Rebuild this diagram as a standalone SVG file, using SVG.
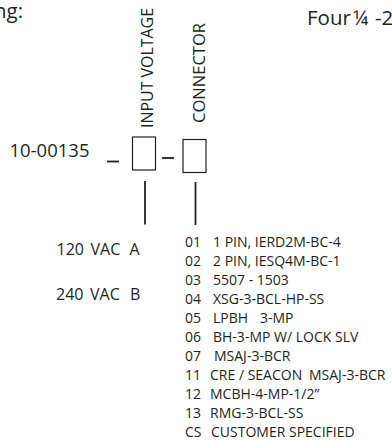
<svg xmlns="http://www.w3.org/2000/svg" width="392" height="441" viewBox="0 0 392 441">
<style>
text{font-family:"Open Sans","Noto Sans","Liberation Sans",sans-serif;fill:#231f20}
.h{font-size:20.5px}
.pn{font-size:18.5px}
.lab{font-size:16.8px}
.v{font-size:16px}
.li{font-size:14px}
.box{fill:none;stroke:#231f20;stroke-width:1.2}
.ln{stroke:#231f20;stroke-width:1.8;fill:none}
</style>
<rect width="392" height="441" fill="#fff"/>
<g id="header">
<text class="h" x="-6" y="18">ng:</text>
<text class="h" y="25"><tspan x="307">Four</tspan><tspan x="353">¼</tspan><tspan x="375">-2</tspan></text>
</g>
<g id="part-number">
<text class="pn" x="9.5" y="156.5">10-00135</text>
</g>
<g id="input-voltage">
<rect class="box" x="132.5" y="137" width="23" height="33"/>
<text class="lab" transform="translate(153,128) rotate(-90)" textLength="120" lengthAdjust="spacingAndGlyphs">INPUT VOLTAGE</text>
</g>
<g id="connector">
<rect class="box" x="183" y="139.5" width="23" height="33"/>
<text class="lab" transform="translate(205,123) rotate(-90)" textLength="100" lengthAdjust="spacingAndGlyphs">CONNECTOR</text>
</g>
<g id="connectors">
<line class="ln" x1="107" y1="161.5" x2="119" y2="161.5"/>
<line class="ln" x1="162" y1="158" x2="174" y2="158"/>
<line class="ln" x1="145" y1="181" x2="145" y2="224.5"/>
<line class="ln" x1="195.5" y1="182" x2="195.5" y2="225"/>
</g>
<g id="voltage-options">
<text class="v" y="255"><tspan x="56.5">120</tspan><tspan x="90.5">VAC</tspan><tspan x="129.5">A</tspan></text>
<text class="v" y="300"><tspan x="56">240</tspan><tspan x="90">VAC</tspan><tspan x="130">B</tspan></text>
</g>
<g id="connector-options">
<text class="li" y="247"><tspan x="185">01</tspan><tspan x="213">1 PIN, IERD2M-BC-4</tspan></text>
<text class="li" y="266"><tspan x="185">02</tspan><tspan x="213">2 PIN, IESQ4M-BC-1</tspan></text>
<text class="li" y="285"><tspan x="185">03</tspan><tspan x="213">5507 - 1503</tspan></text>
<text class="li" y="304"><tspan x="185">04</tspan><tspan x="213">XSG-3-BCL-HP-SS</tspan></text>
<text class="li" y="323"><tspan x="185">05</tspan><tspan x="213">LPBH</tspan><tspan x="260">3-MP</tspan></text>
<text class="li" y="342"><tspan x="185">06</tspan><tspan x="213">BH-3-MP W/ LOCK SLV</tspan></text>
<text class="li" y="361"><tspan x="185">07</tspan><tspan x="214">MSAJ-3-BCR</tspan></text>
<text class="li" y="380"><tspan x="185">11</tspan><tspan x="210">CRE / SEACON</tspan><tspan x="309">MSAJ-3-BCR</tspan></text>
<text class="li" y="399"><tspan x="185">12</tspan><tspan x="210">MCBH-4-MP-1/2”</tspan></text>
<text class="li" y="418"><tspan x="185">13</tspan><tspan x="210">RMG-3-BCL-SS</tspan></text>
<text class="li" y="437"><tspan x="185">CS</tspan><tspan x="211">CUSTOMER SPECIFIED</tspan></text>
</g>
</svg>
